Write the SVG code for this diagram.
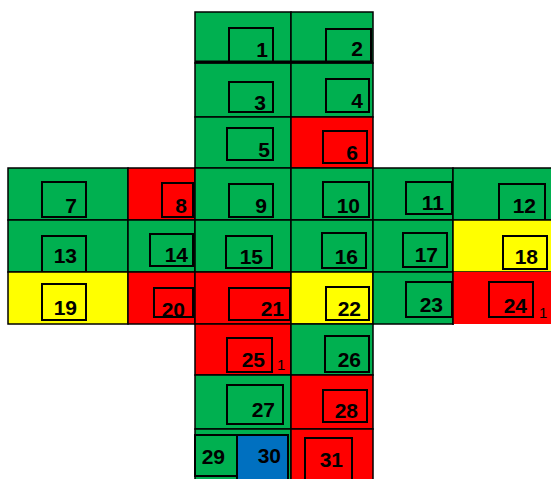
<svg xmlns="http://www.w3.org/2000/svg" width="551" height="479" viewBox="0 0 551 479">
<style>
.g{fill:#00B050}.r{fill:#FF0000}.y{fill:#FFFF00}.b{fill:#0070C0}
.cell{stroke:#000;stroke-width:1.5}
.box{stroke:#000;stroke-width:2}
text{font-family:"Liberation Sans",Arial,sans-serif;font-weight:bold;font-size:21px;fill:#000;text-anchor:end}
text.s{font-weight:normal;font-size:15px;text-anchor:start}
</style>
<rect width="551" height="479" fill="#fff"/>
<g id="c1"><rect class="cell g" x="195" y="12" width="96" height="51"/><rect class="box g" x="229" y="28" width="44" height="34"/><text x="268" y="57">1</text></g>
<g id="c2"><rect class="cell g" x="291" y="12" width="82" height="51"/><rect class="box g" x="326" y="29" width="45" height="33"/><text x="363" y="56">2</text></g>
<g id="c3"><rect class="cell g" x="195" y="63" width="96" height="54"/><rect class="box g" x="229" y="82" width="44" height="30"/><text x="266" y="110">3</text></g>
<g id="c4"><rect class="cell g" x="291" y="63" width="82" height="54"/><rect class="box g" x="326" y="79" width="43" height="33"/><text x="363" y="108">4</text></g>
<g id="c5"><rect class="cell g" x="195" y="117" width="96" height="51"/><rect class="box g" x="227" y="128" width="46" height="32"/><text x="270" y="157">5</text></g>
<g id="c6"><rect class="cell r" x="291" y="117" width="82" height="51"/><rect class="box r" x="323" y="131" width="44" height="32"/><text x="358" y="160">6</text></g>
<g id="c7"><rect class="cell g" x="8" y="168" width="120" height="52"/><rect class="box g" x="42" y="182" width="44" height="35"/><text x="77" y="213">7</text></g>
<g id="c8"><rect class="cell r" x="128" y="168" width="67" height="52"/><rect class="box r" x="162" y="183" width="31" height="34"/><text x="187" y="213">8</text></g>
<g id="c9"><rect class="cell g" x="195" y="168" width="96" height="52"/><rect class="box g" x="229" y="184" width="44" height="33"/><text x="267" y="213">9</text></g>
<g id="c10"><rect class="cell g" x="291" y="168" width="82" height="52"/><rect class="box g" x="323" y="182" width="46" height="35"/><text x="360" y="213">10</text></g>
<g id="c11"><rect class="cell g" x="373" y="168" width="80" height="52"/><rect class="box g" x="406" y="182" width="46" height="32"/><text x="444" y="210">11</text></g>
<g id="c12"><rect class="cell g" x="453" y="168" width="100" height="52"/><rect class="box g" x="499" y="184" width="46" height="36"/><text x="536" y="213">12</text></g>
<g id="c13"><rect class="cell g" x="8" y="220" width="120" height="52"/><rect class="box g" x="42" y="236" width="44" height="36"/><text x="77" y="263">13</text></g>
<g id="c14"><rect class="cell g" x="128" y="220" width="67" height="52"/><rect class="box g" x="150" y="234" width="43" height="32"/><text x="188" y="262">14</text></g>
<g id="c15"><rect class="cell g" x="195" y="220" width="96" height="52"/><rect class="box g" x="226" y="236" width="46" height="32"/><text x="263" y="264">15</text></g>
<g id="c16"><rect class="cell g" x="291" y="220" width="82" height="52"/><rect class="box g" x="322" y="233" width="44" height="35"/><text x="358" y="264">16</text></g>
<g id="c17"><rect class="cell g" x="373" y="220" width="80" height="52"/><rect class="box g" x="403" y="233" width="44" height="34"/><text x="438" y="262">17</text></g>
<g id="c18"><rect class="cell y" x="453" y="220" width="100" height="52"/><rect class="box y" x="503" y="236" width="44" height="33"/><text x="538" y="264">18</text></g>
<g id="c19"><rect class="cell y" x="8" y="272" width="120" height="52"/><rect class="box y" x="42" y="284" width="44" height="36"/><text x="77" y="315">19</text></g>
<g id="c20"><rect class="cell r" x="128" y="272" width="67" height="52"/><rect class="box r" x="154" y="288" width="39" height="29"/><text x="185" y="317">20</text></g>
<g id="c21"><rect class="cell r" x="195" y="272" width="96" height="52"/><rect class="box r" x="229" y="288" width="61" height="32"/><text x="284" y="316">21</text></g>
<g id="c22"><rect class="cell y" x="291" y="272" width="82" height="52"/><rect class="box y" x="326" y="287" width="43" height="33"/><text x="361" y="316">22</text></g>
<g id="c23"><rect class="cell g" x="373" y="272" width="80" height="52"/><rect class="box g" x="406" y="282" width="46" height="35"/><text x="443" y="312">23</text></g>
<g id="c24"><rect class="r" x="453" y="272" width="100" height="52"/><line x1="453" y1="272" x2="453" y2="325" stroke="#000" stroke-width="1.5"/><rect class="box r" x="489" y="282" width="44" height="35"/><text x="527" y="313">24</text><text class="s" x="539" y="318">1</text></g>
<g id="c25"><rect class="cell r" x="195" y="324" width="96" height="51"/><rect class="box r" x="227" y="338" width="45" height="34"/><text x="265" y="367">25</text><text class="s" x="277" y="370">1</text></g>
<g id="c26"><rect class="cell g" x="291" y="324" width="82" height="51"/><rect class="box g" x="325" y="336" width="44" height="36"/><text x="361" y="367">26</text></g>
<g id="c27"><rect class="cell g" x="195" y="375" width="96" height="54"/><rect class="box g" x="227" y="385" width="56" height="39"/><text x="275" y="417">27</text></g>
<g id="c28"><rect class="cell r" x="291" y="375" width="82" height="54"/><rect class="box r" x="323" y="390" width="44" height="32"/><text x="358" y="418">28</text></g>
<g id="c29"><rect class="cell g" x="195" y="429" width="96" height="52"/><rect class="box g" x="195" y="435" width="42" height="41"/><text x="225" y="464">29</text></g>
<g id="c30"><rect class="box b" x="237" y="435" width="51" height="46"/><text x="281" y="463">30</text></g>
<g id="c31"><rect class="cell r" x="291" y="429" width="82" height="52"/><rect class="box r" x="305" y="438" width="47" height="43"/><text x="343" y="467">31</text></g>
<line x1="195" y1="62" x2="373" y2="62" stroke="#000" stroke-width="3"/>
</svg>
